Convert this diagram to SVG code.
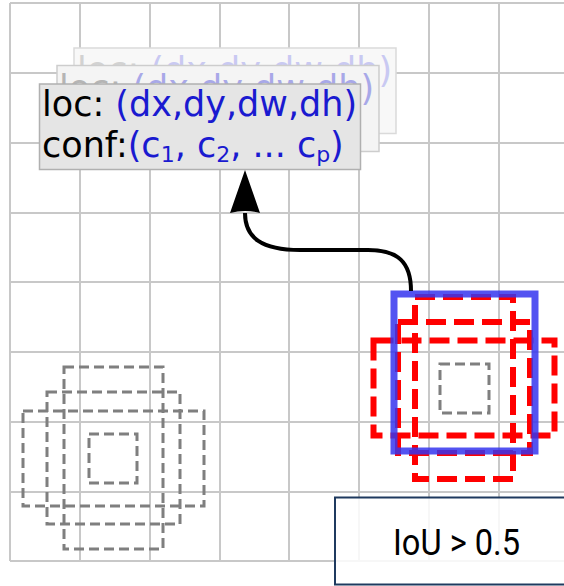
<svg xmlns="http://www.w3.org/2000/svg" width="564" height="586" viewBox="0 0 564 586">
  <defs>
    <style>
      .grid line { stroke: #c8c8c8; stroke-width: 2; }
      .gbox { fill: none; stroke: #7f7f7f; stroke-width: 3; stroke-dasharray: 10 5; }
      .rbox { fill: none; stroke: #ff0000; stroke-width: 6; stroke-dasharray: 20 8; }
      .card-txt { font-family: "DejaVu Sans", Verdana, sans-serif; font-size: 35px; }
      .sub { font-size: 22px; }
    </style>
    <marker id="arrow" viewBox="0 0 43 30" refX="0" refY="15" markerWidth="43" markerHeight="30" markerUnits="userSpaceOnUse" orient="auto">
      <path d="M0,0 L43,15 L0,30 Q4,15 0,0 Z" fill="#000"/>
    </marker>
  </defs>
  <rect x="0" y="0" width="564" height="586" fill="#ffffff"/>

  <g id="grid" class="grid">
    <line x1="10" y1="3" x2="10" y2="561"/>
    <line x1="80" y1="3" x2="80" y2="561"/>
    <line x1="150" y1="3" x2="150" y2="561"/>
    <line x1="220" y1="3" x2="220" y2="561"/>
    <line x1="289" y1="3" x2="289" y2="561"/>
    <line x1="359" y1="3" x2="359" y2="561"/>
    <line x1="429" y1="3" x2="429" y2="561"/>
    <line x1="499" y1="3" x2="499" y2="561"/>
    <line x1="10" y1="3" x2="564" y2="3"/>
    <line x1="10" y1="73" x2="564" y2="73"/>
    <line x1="10" y1="143" x2="564" y2="143"/>
    <line x1="10" y1="213" x2="564" y2="213"/>
    <line x1="10" y1="282" x2="564" y2="282"/>
    <line x1="10" y1="352" x2="564" y2="352"/>
    <line x1="10" y1="422" x2="564" y2="422"/>
    <line x1="10" y1="492" x2="564" y2="492"/>
    <line x1="10" y1="561" x2="564" y2="561"/>
  </g>

  <g id="default-boxes-left">
    <rect class="gbox" x="64" y="367" width="99" height="182"/>
    <rect class="gbox" x="47" y="392" width="133" height="132"/>
    <rect class="gbox" x="23" y="411" width="181" height="95"/>
    <rect class="gbox" x="89" y="434" width="48" height="49"/>
  </g>

  <g id="matched-boxes-right">
    <rect class="rbox" x="415" y="297" width="98" height="182"/>
    <rect class="rbox" x="398" y="322" width="132" height="131"/>
    <rect class="rbox" x="373.5" y="340.5" width="181" height="95"/>
    <rect class="gbox" x="440" y="364" width="49" height="49"/>
  </g>

  <g id="ground-truth">
    <rect x="394" y="294" width="141" height="157" fill="none" stroke="#3535ee" stroke-opacity="0.85" stroke-width="7"/>
  </g>

  <g id="card-back">
    <rect x="74" y="48" width="322" height="85.5" fill="#f8f8f8" stroke="#dadada" stroke-width="1.5"/>
    <text class="card-txt" x="77" y="82"><tspan fill="#d2d2d2">loc: </tspan><tspan fill="#c9c9f2">(dx,dy,dw,dh)</tspan></text>
  </g>
  <g id="card-middle">
    <rect x="57" y="65.5" width="322" height="86" fill="#f4f4f4" stroke="#cdcdcd" stroke-width="1.5"/>
    <text class="card-txt" x="59" y="100"><tspan fill="#b5b5b5">loc: </tspan><tspan fill="#a8a8e8">(dx,dy,dw,dh)</tspan></text>
  </g>
  <g id="card-front">
    <rect x="39.5" y="84" width="321" height="85.5" fill="#e5e5e5" stroke="#b0b0b0" stroke-width="1.5"/>
    <text class="card-txt" x="42" y="115.5"><tspan fill="#000">loc: </tspan><tspan fill="#1a1ad0">(dx,dy,dw,dh)</tspan></text>
    <text class="card-txt" x="42" y="157"><tspan fill="#000">conf:</tspan><tspan fill="#1a1ad0">(c<tspan class="sub" dy="5">1</tspan><tspan dy="-5">, c</tspan><tspan class="sub" dy="5">2</tspan><tspan dy="-5">, ... c</tspan><tspan class="sub" dy="5">p</tspan><tspan dy="-5">)</tspan></tspan></text>
  </g>

  <g id="connectors">
    <path d="M 411 291 C 411 262, 398 250, 368 250 L 300 250 C 262 250, 245 238, 245 213" fill="none" stroke="#000" stroke-width="4" marker-end="url(#arrow)"/>
  </g>

  <g id="iou-label">
    <rect x="335" y="497.5" width="240" height="87" fill="#ffffff" fill-opacity="0.85" stroke="#1f3a5f" stroke-width="2"/>
    <text x="393" y="555" font-family="Roboto, 'Liberation Sans', sans-serif" font-size="36" textLength="127" lengthAdjust="spacingAndGlyphs" fill="#000">IoU &gt; 0.5</text>
  </g>
</svg>
